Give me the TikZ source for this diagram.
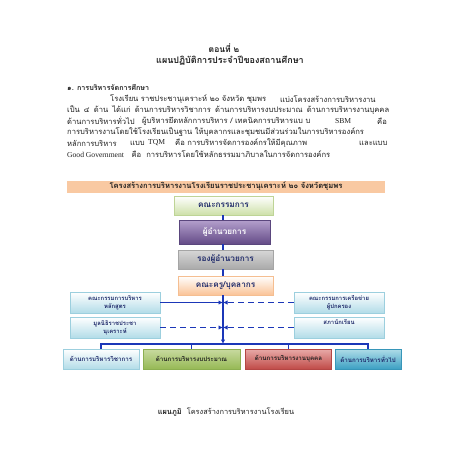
\documentclass[tikz,border=0pt]{standalone}
\usepackage{fontspec}
\newfontfamily\thai[Script=Thai]{Loma}
\newfontfamily\lat{Liberation Serif}
\usetikzlibrary{arrows.meta,shadows}
\definecolor{navy}{HTML}{1F2A6A}
\definecolor{linkblue}{HTML}{1B37B8}
\definecolor{bandc}{HTML}{F9C9A2}
\definecolor{txt}{HTML}{202020}
\definecolor{blueb}{HTML}{B2DCE8}
\definecolor{bluebd}{HTML}{9CCFDE}
\tikzset{
  body/.style={anchor=west,inner sep=0pt,font=\thai\fontsize{7.6}{8}\selectfont,text=txt},
  box/.style={draw,line width=0.5pt,inner sep=0pt,align=center,text=navy,
    drop shadow={opacity=0.35,shadow xshift=0.8pt,shadow yshift=-0.8pt}},
  bigbox/.style={box,font=\thai\bfseries\fontsize{8.2}{9}\selectfont},
  smallbox/.style={box,font=\thai\bfseries\fontsize{5.9}{8}\selectfont,minimum width=90pt,minimum height=21pt,
    top color=white,bottom color=blueb,draw=bluebd},
  botbox/.style={box,font=\thai\bfseries\fontsize{6.2}{7}\selectfont,minimum height=20pt},
  link/.style={draw=linkblue,line width=1.3pt},
  dlink/.style={link,dash pattern=on 6pt off 4pt},
  tip/.style={-{Latex[length=4.5pt,width=4.5pt]}}
}
\begin{document}
\begin{tikzpicture}[x=1pt,y=-1pt]
\useasboundingbox[fill=white] (0,0) rectangle (453,453);
% titles
\node[inner sep=0pt,font=\thai\bfseries\fontsize{8.5}{9}\selectfont,text=txt] (t0) at (224,48) {ตอนที่ ๒};
\node[inner sep=0pt,font=\thai\bfseries\fontsize{9}{10}\selectfont,text=txt] (t00) at (230,61) {แผนปฏิบัติการประจำปีของสถานศึกษา};
\node[body,font=\thai\bfseries\fontsize{7.2}{8}\selectfont] (h1) at (67,88) {๑. การบริหารจัดการศึกษา};
% paragraph
\node[body] (p1a) at (110,99) {โรงเรียน ราชประชานุเคราะห์ ๒๐ จังหวัด ชุมพร};
\node[body] (p1b) at (280,99) {แบ่งโครงสร้างการบริหารงาน};
\node[body] (p2) at (67,110) {\makebox[322pt][s]{เป็น ๔ ด้าน ได้แก่ ด้านการบริหารวิชาการ ด้านการบริหารงบประมาณ ด้านการบริหารงานบุคคล}};
\node[body] (p3a) at (67,121) {ด้านการบริหารทั่วไป};
\node[body] (p3b) at (142,121) {ผู้บริหารยึดหลักการบริหาร / เทคนิคการบริหารแบ บ};
\node[body] (p3c) at (335,121) {{\lat SBM}};
\node[body] (p3d) at (377,121) {คือ};
\node[body] (p4) at (67,132) {การบริหารงานโดยใช้โรงเรียนเป็นฐาน ให้บุคลากรและชุมชนมีส่วนร่วมในการบริหารองค์กร};
\node[body] (p5a) at (67,143) {หลักการบริหาร};
\node[body] (p5b) at (130,143) {แบบ};
\node[body] (p5c) at (148,143) {{\lat TQM}};
\node[body] (p5d) at (175,143) {คือ การบริหารจัดการองค์กรให้มีคุณภาพ};
\node[body] (p5e) at (359,143) {และแบบ};
\node[body] (p6) at (67,154) {{\lat Good Government}\quad คือ\ \ การบริหารโดยใช้หลักธรรมมาภิบาลในการจัดการองค์กร};
% band
\node[fill=bandc,minimum width=318pt,minimum height=12pt,inner sep=0pt,
  font=\thai\bfseries\fontsize{7.6}{8}\selectfont,text=txt] (band) at (226,186.5)
  {โครงสร้างการบริหารงานโรงเรียนราชประชานุเคราะห์ ๒๐ จังหวัดชุมพร};
% main boxes
\node[bigbox,minimum width=99pt,minimum height=19pt,top color=white,bottom color={rgb,255:red,205;green,224;blue,168},draw={rgb,255:red,190;green,212;blue,150}] (com) at (223.5,205.5) {คณะกรรมการ};
\node[bigbox,minimum width=91pt,minimum height=24pt,top color={rgb,255:red,180;green,160;blue,205},bottom color={rgb,255:red,100;green,75;blue,135},draw={rgb,255:red,90;green,70;blue,125},text=white] (dir) at (224.5,232) {ผู้อำนวยการ};
\node[bigbox,minimum width=95pt,minimum height=19pt,top color={rgb,255:red,215;green,215;blue,215},bottom color={rgb,255:red,170;green,170;blue,170},draw={rgb,255:red,165;green,165;blue,165}] (dep) at (225.5,259.5) {รองผู้อำนวยการ};
\node[bigbox,minimum width=95pt,minimum height=19pt,top color=white,bottom color={rgb,255:red,250;green,195;blue,150},draw={rgb,255:red,245;green,190;blue,145}] (stf) at (225.5,285.5) {คณะครู/บุคลากร};
% side boxes
\node[smallbox] (l1) at (115,302.5) {คณะกรรมการบริหาร\\หลักสูตร};
\node[smallbox] (l2) at (115,327.5) {มูลนิธิราชประชา\\นุเคราะห์};
\node[smallbox] (r1) at (339,302.5) {คณะกรรมการเครือข่าย\\ผู้ปกครอง};
\node[smallbox] (r2) at (339,327.5) {สภานักเรียน\\\strut};
% bottom boxes
\node[botbox,minimum width=76pt,top color=white,bottom color=blueb,draw=bluebd] (b1) at (101,359) {ด้านการบริหารวิชาการ};
\node[botbox,minimum width=97pt,top color={rgb,255:red,200;green,218;blue,160},bottom color={rgb,255:red,150;green,185;blue,85},draw={rgb,255:red,140;green,175;blue,80},text=txt] (b2) at (191.5,359) {ด้านการบริหารงบประมาณ};
\node[botbox,minimum width=86pt,top color={rgb,255:red,232;green,170;blue,168},bottom color={rgb,255:red,192;green,75;blue,72},draw={rgb,255:red,180;green,70;blue,68},text=txt] (b3) at (288.5,359) {ด้านการบริหารงานบุคคล};
\node[botbox,minimum width=66pt,top color={rgb,255:red,175;green,220;blue,232},bottom color={rgb,255:red,60;green,160;blue,195},draw={rgb,255:red,55;green,150;blue,185}] (b4) at (368,359) {ด้านการบริหารทั่วไป};
% caption
\node[inner sep=0pt,font=\thai\fontsize{7.4}{8}\selectfont,text=txt] (cap) at (226,412) {{\bfseries แผนภูมิ}\ \ โครงสร้างการบริหารงานโรงเรียน};
% connectors
\coordinate (spine) at (223,0);
\coordinate (bus) at (223,344);
\draw[link] (com.south -| spine) -- (dir.north -| spine);
\draw[link] (dir.south -| spine) -- (dep.north -| spine);
\draw[link] (dep.south -| spine) -- (stf.north -| spine);
\draw[link,tip] (stf.south -| spine) -- (bus);
\draw[link] (b1.north) -- (b1.north |- bus) -- (b4.north |- bus) -- (b4.north);
\draw[link] (b2.north |- bus) -- (b2.north);
\draw[link] (b3.north |- bus) -- (b3.north);
\draw[link,tip] (l1.east) -- (l1.east -| spine);
\draw[dlink,tip] (l2.east) -- (l2.east -| spine);
\draw[dlink,tip] (r1.west) -- (r1.west -| spine);
\draw[dlink,tip] (r2.west) -- (r2.west -| spine);
\end{tikzpicture}
\end{document}
